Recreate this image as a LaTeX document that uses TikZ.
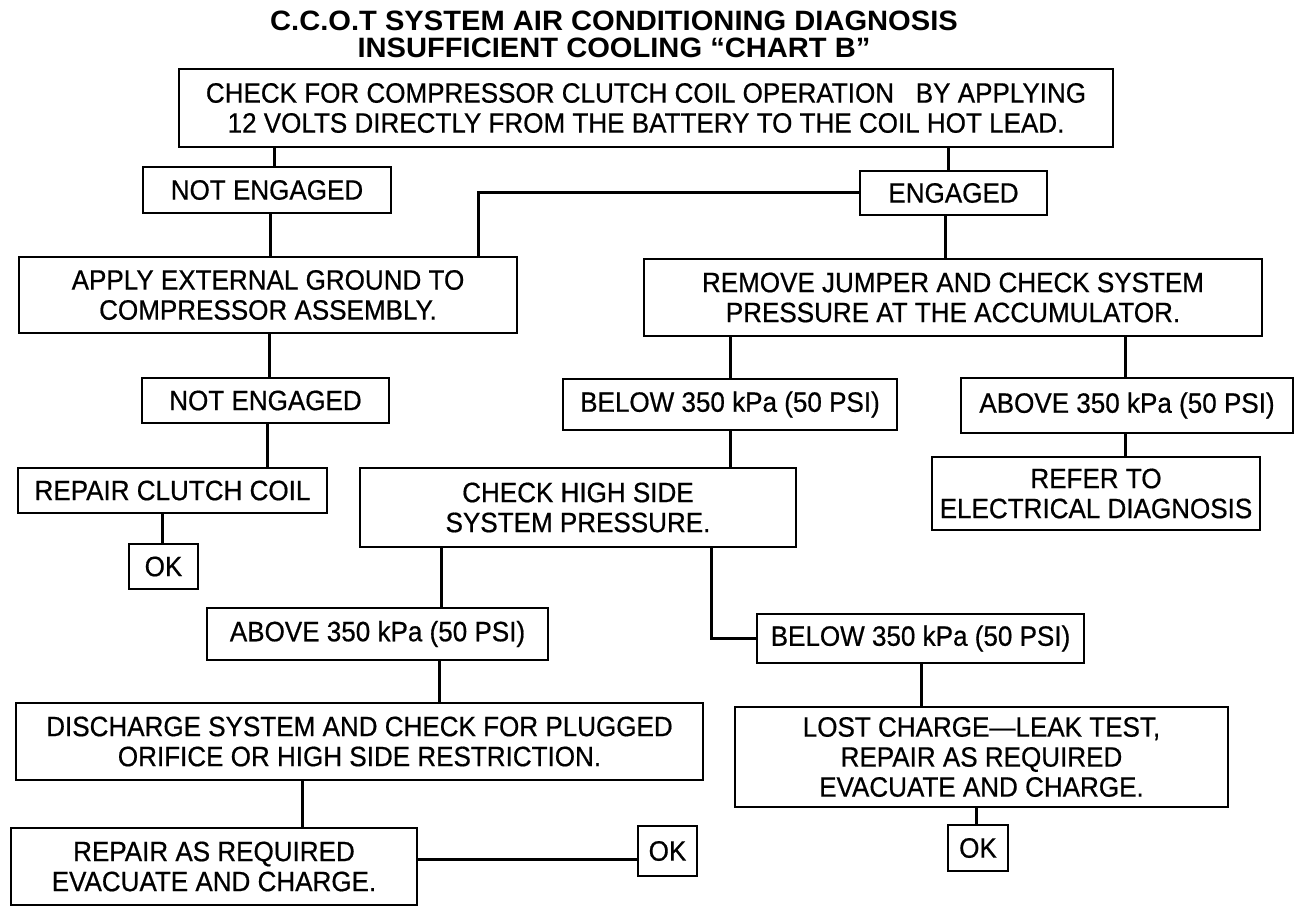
\documentclass[tikz,border=0pt]{standalone}
\usepackage{fontspec}
\setmainfont{Liberation Sans}[FakeStretch=0.93,FakeBold=0.6]
\newfontfamily\titlefont{Liberation Sans}[FakeStretch=1.04]
\begin{document}
\begin{tikzpicture}[x=1pt,y=-1pt,
  box/.style={draw,line width=2.6pt,inner sep=0pt,align=center,font=\fontsize{28}{30}\selectfont},
  conn/.style={line width=3pt}]
\useasboundingbox[fill=white] (0,0) rectangle (1312,912);
\node[align=center,font=\titlefont\bfseries\fontsize{28}{27}\selectfont] (title) at (614,34) {C.C.O.T SYSTEM AIR CONDITIONING DIAGNOSIS\\INSUFFICIENT COOLING \textquotedblleft CHART B\textquotedblright};
\node[box,minimum width=934pt,minimum height=78pt] (top) at (646,108) {CHECK FOR COMPRESSOR CLUTCH COIL OPERATION\ \ \ BY APPLYING\\12 VOLTS DIRECTLY FROM THE BATTERY TO THE COIL HOT LEAD.};
\node[box,minimum width=248pt,minimum height=46pt] (ne1) at (267,190) {NOT ENGAGED};
\node[box,minimum width=187pt,minimum height=44pt] (eng) at (953.5,193) {ENGAGED};
\node[box,minimum width=498pt,minimum height=76pt] (apply) at (268,295) {APPLY EXTERNAL GROUND TO\\COMPRESSOR ASSEMBLY.};
\node[box,minimum width=618pt,minimum height=77pt] (remove) at (953,297.5) {REMOVE JUMPER AND CHECK SYSTEM\\PRESSURE AT THE ACCUMULATOR.};
\node[box,minimum width=247pt,minimum height=45pt] (ne2) at (265.5,400.5) {NOT ENGAGED};
\node[box,minimum width=334pt,minimum height=51pt] (below1) at (730,404.5) {BELOW 350 kPa (50 PSI)};
\node[box,minimum width=332pt,minimum height=55pt] (above1) at (1127,405.5) {ABOVE 350 kPa (50 PSI)};
\node[box,minimum width=309pt,minimum height=45pt] (repclutch) at (172.5,490.5) {REPAIR CLUTCH COIL};
\node[box,minimum width=436pt,minimum height=79pt] (checkhigh) at (578,507.5) {CHECK HIGH SIDE\\SYSTEM PRESSURE.};
\node[box,minimum width=328pt,minimum height=73pt] (refer) at (1096,493.5) {REFER TO\\ELECTRICAL DIAGNOSIS};
\node[box,minimum width=69pt,minimum height=45pt] (ok1) at (163.5,566.5) {OK};
\node[box,minimum width=341pt,minimum height=52pt] (above2) at (377.5,634) {ABOVE 350 kPa (50 PSI)};
\node[box,minimum width=327pt,minimum height=49pt] (below2) at (920.5,638.5) {BELOW 350 kPa (50 PSI)};
\node[box,minimum width=687pt,minimum height=77pt] (discharge) at (359.5,741.5) {DISCHARGE SYSTEM AND CHECK FOR PLUGGED\\ORIFICE OR HIGH SIDE RESTRICTION.};
\node[box,minimum width=493pt,minimum height=100pt] (lost) at (981.5,757) {LOST CHARGE---LEAK TEST,\\REPAIR AS REQUIRED\\EVACUATE AND CHARGE.};
\node[box,minimum width=406pt,minimum height=77pt] (repreq) at (214,866.5) {REPAIR AS REQUIRED\\EVACUATE AND CHARGE.};
\node[box,minimum width=59pt,minimum height=50pt] (ok2) at (667.5,851) {OK};
\node[box,minimum width=60pt,minimum height=46pt] (ok3) at (978,848) {OK};
% x positions of connectors
\coordinate (xa) at (274,0);
\coordinate (xb) at (948,0);
\coordinate (xc) at (270,0);
\coordinate (xd) at (478,0);
\coordinate (xe) at (945,0);
\coordinate (xf) at (269,0);
\coordinate (xg) at (267,0);
\coordinate (xh) at (162,0);
\coordinate (xi) at (730,0);
\coordinate (xj) at (1125,0);
\coordinate (xm) at (441,0);
\coordinate (xn) at (711,0);
\coordinate (xo) at (439,0);
\coordinate (xp) at (302,0);
\coordinate (yq) at (0,859);
\coordinate (xr) at (921,0);
\coordinate (xs) at (976,0);
\draw[conn] (top.south -| xa) -- (ne1.north -| xa);
\draw[conn] (top.south -| xb) -- (eng.north -| xb);
\draw[conn] (ne1.south -| xc) -- (apply.north -| xc);
\draw[conn] (eng.west) -| (apply.north -| xd);
\draw[conn] (eng.south -| xe) -- (remove.north -| xe);
\draw[conn] (apply.south -| xf) -- (ne2.north -| xf);
\draw[conn] (ne2.south -| xg) -- (repclutch.north -| xg);
\draw[conn] (repclutch.south -| xh) -- (ok1.north -| xh);
\draw[conn] (remove.south -| xi) -- (below1.north -| xi);
\draw[conn] (remove.south -| xj) -- (above1.north -| xj);
\draw[conn] (above1.south -| xj) -- (refer.north -| xj);
\draw[conn] (below1.south -| xi) -- (checkhigh.north -| xi);
\draw[conn] (checkhigh.south -| xm) -- (above2.north -| xm);
\draw[conn] (checkhigh.south -| xn) |- (below2.west);
\draw[conn] (above2.south -| xo) -- (discharge.north -| xo);
\draw[conn] (discharge.south -| xp) -- (repreq.north -| xp);
\draw[conn] (repreq.east |- yq) -- (ok2.west |- yq);
\draw[conn] (below2.south -| xr) -- (lost.north -| xr);
\draw[conn] (lost.south -| xs) -- (ok3.north -| xs);
\end{tikzpicture}
\end{document}
